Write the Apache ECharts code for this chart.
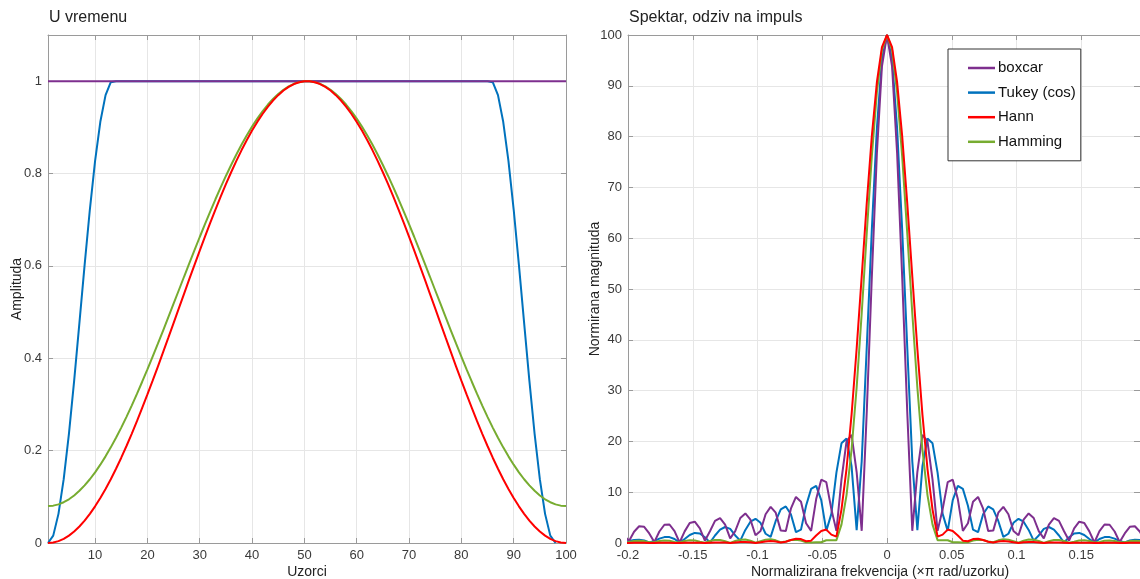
<!DOCTYPE html>
<html>
<head>
<meta charset="utf-8">
<script src="https://cdn.jsdelivr.net/npm/echarts@6.0.0/dist/echarts.min.js"></script>
<style>
  html, body { margin: 0; padding: 0; background: #ffffff; }
  #chart { width: 1140px; height: 579px; }
</style>
</head>
<body>
<div id="chart"></div>
<script>
// ---------- Data: time domain (window of 100 samples) ----------
const samples = [1,2,3,4,5,6,7,8,9,10,11,12,13,14,15,16,17,18,19,20,
  21,22,23,24,25,26,27,28,29,30,31,32,33,34,35,36,37,38,39,40,
  41,42,43,44,45,46,47,48,49,50,51,52,53,54,55,56,57,58,59,60,
  61,62,63,64,65,66,67,68,69,70,71,72,73,74,75,76,77,78,79,80,
  81,82,83,84,85,86,87,88,89,90,91,92,93,94,95,96,97,98,99,100];

const boxcarTime = [1,1,1,1,1,1,1,1,1,1,1,1,1,1,1,1,1,1,1,1,
  1,1,1,1,1,1,1,1,1,1,1,1,1,1,1,1,1,1,1,1,
  1,1,1,1,1,1,1,1,1,1,1,1,1,1,1,1,1,1,1,1,
  1,1,1,1,1,1,1,1,1,1,1,1,1,1,1,1,1,1,1,1,
  1,1,1,1,1,1,1,1,1,1,1,1,1,1,1,1,1,1,1,1];

const tukeyTime = [0,0.0160,0.0631,0.1381,0.2361,0.3515,0.4762,0.6024,0.7221,0.8276,0.9121,0.9698,0.9977,
  1,1,1,1,1,1,1,1,1,1,1,1,1,1,1,1,1,1,1,1,1,1,1,1,1,1,1,1,1,1,1,1,1,1,1,1,
  1,1,1,1,1,1,1,1,1,1,1,1,1,1,1,1,1,1,1,1,1,1,1,1,1,1,1,1,1,1,1,1,1,1,1,1,
  0.9977,0.9698,0.9121,0.8276,0.7221,0.6024,0.4762,0.3515,0.2361,0.1381,0.0631,0.0160,0];

const hannTime = [0,0.0010,0.0040,0.0090,0.0160,0.0250,0.0358,0.0485,0.0631,0.0794,
  0.0974,0.1170,0.1381,0.1607,0.1847,0.2100,0.2364,0.2639,0.2927,0.3216,
  0.3515,0.3821,0.4132,0.4446,0.4762,0.5079,0.5396,0.5712,0.6024,0.6332,
  0.6635,0.6932,0.7220,0.7500,0.7770,0.8028,0.8274,0.8508,0.8726,0.8930,
  0.9118,0.9290,0.9444,0.9581,0.9698,0.9797,0.9877,0.9938,0.9977,0.9997,
  0.9997,0.9977,0.9938,0.9877,0.9797,0.9698,0.9581,0.9444,0.9290,0.9118,
  0.8930,0.8726,0.8508,0.8274,0.8028,0.7770,0.7500,0.7220,0.6932,0.6635,
  0.6332,0.6024,0.5712,0.5396,0.5079,0.4762,0.4446,0.4132,0.3821,0.3515,
  0.3216,0.2927,0.2639,0.2364,0.2100,0.1847,0.1607,0.1381,0.1170,0.0974,
  0.0794,0.0631,0.0485,0.0358,0.0250,0.0160,0.0090,0.0040,0.0010,0];

const hammingTime = [0.0800,0.0809,0.0837,0.0883,0.0947,0.1030,0.1130,0.1247,0.1380,0.1530,
  0.1696,0.1876,0.2071,0.2279,0.2499,0.2732,0.2975,0.3228,0.3492,0.3758,
  0.4034,0.4315,0.4601,0.4890,0.5181,0.5473,0.5765,0.6055,0.6342,0.6626,
  0.6905,0.7177,0.7443,0.7700,0.7948,0.8186,0.8412,0.8627,0.8828,0.9016,
  0.9189,0.9347,0.9489,0.9614,0.9723,0.9814,0.9887,0.9943,0.9979,0.9998,
  0.9998,0.9979,0.9943,0.9887,0.9814,0.9723,0.9614,0.9489,0.9347,0.9189,
  0.9016,0.8828,0.8627,0.8412,0.8186,0.7948,0.7700,0.7443,0.7177,0.6905,
  0.6626,0.6342,0.6055,0.5765,0.5473,0.5181,0.4890,0.4601,0.4315,0.4034,
  0.3758,0.3492,0.3228,0.2975,0.2732,0.2499,0.2279,0.2071,0.1876,0.1696,
  0.1530,0.1380,0.1247,0.1130,0.1030,0.0947,0.0883,0.0837,0.0809,0.0800];

// ---------- Data: spectrum (one-sided, mirrored for negative frequencies) ----------
const freqPos = [0,0.00391,0.00781,0.01172,0.01563,0.01953,0.02344,0.02734,0.03125,0.03516,
  0.03906,0.04297,0.04688,0.05078,0.05469,0.05859,0.0625,0.06641,0.07031,0.07422,
  0.07813,0.08203,0.08594,0.08984,0.09375,0.09766,0.10156,0.10547,0.10938,0.11328,
  0.11719,0.12109,0.125,0.12891,0.13281,0.13672,0.14063,0.14453,0.14844,0.15234,
  0.15625,0.16016,0.16406,0.16797,0.17188,0.17578,0.17969,0.18359,0.1875,0.19141,
  0.19531,0.19922,0.20313];

const boxcarSpec = [100,93.84,76.72,52.35,25.85,2.40,13.97,21.29,19.99,12.49,
  2.39,6.67,11.99,12.46,8.64,2.38,3.90,8.11,9.06,6.76,
  2.37,2.44,5.97,7.11,5.67,2.36,1.53,4.59,5.82,4.92,
  2.34,0.90,3.62,4.90,4.36,2.31,0.45,2.90,4.20,3.94,
  2.29,0.10,2.34,3.64,3.59,2.26,0.18,1.88,3.18,3.29,
  2.22,0.40,1.50];

const tukeySpec = [100,95.22,81.64,61.66,38.58,16.10,2.54,15.05,20.57,19.62,
  13.85,5.73,2.38,8.43,11.25,10.66,7.34,2.63,2.14,5.66,
  7.20,6.61,4.34,1.21,1.82,3.97,4.77,4.19,2.57,0.47,
  1.48,2.77,3.15,2.63,1.48,0.09,1.12,1.86,1.99,1.57,
  0.79,0.07,0.78,1.16,1.16,0.86,0.38,0.11,0.48,0.64,
  0.59,0.40,0.15];

const hannSpec = [100,97.61,90.70,80.10,66.93,52.49,38.24,25.32,14.61,6.57,
  1.25,1.65,2.64,2.38,1.48,0.46,0.35,0.77,0.82,0.59,
  0.24,0.10,0.31,0.38,0.30,0.15,0.02,0.15,0.20,0.18,
  0.10,0.00,0.08,0.12,0.11,0.07,0.01,0.04,0.07,0.07,
  0.05,0.01,0.02,0.05,0.05,0.04,0.01,0.01,0.03,0.04,
  0.03,0.01,0.01];

const hammingSpec = [100,97.07,88.69,76.11,61.00,45.23,30.61,18.45,9.43,3.62,
  0.56,0.54,0.54,0.15,0.13,0.11,0.15,0.47,0.65,0.59,
  0.29,0.14,0.53,0.73,0.66,0.36,0.06,0.45,0.67,0.64,
  0.39,0.01,0.36,0.59,0.60,0.41,0.07,0.27,0.51,0.56,
  0.41,0.12,0.20,0.43,0.51,0.40,0.16,0.13,0.37,0.46,
  0.40,0.19,0.08];

// ---------- Tick values ----------
const sampleTicks = [10,20,30,40,50,60,70,80,90,100];
const ampTicks = [0,0.2,0.4,0.6,0.8,1];

const seriesNames = ['boxcar','Tukey (cos)','Hann','Hamming'];
const colors = {'boxcar':'#7E2F8E','Tukey (cos)':'#0072BD','Hann':'#FF0000','Hamming':'#77AC30'};

// ---------- Helpers ----------
function pairs(xs, ys) { return xs.map((x, i) => [x, ys[i]]); }
function twoSided(f, m) {
  const out = [];
  for (let i = f.length - 1; i >= 1; i--) out.push([-f[i], m[i]]);
  for (let i = 0; i < f.length; i++) out.push([f[i], m[i]]);
  return out;
}

const FONT = '"Liberation Sans", Arial, Helvetica, sans-serif';
const AXC = '#9a9a9a';
const LBL = '#3a3a3a';
const GRIDC = '#e6e6e6';

function mainAxis(extra) {
  return Object.assign({
    type: 'value',
    axisLine: { show: true, onZero: false, lineStyle: { color: AXC, width: 1 } },
    axisTick: { show: true, inside: true, length: 5, lineStyle: { color: AXC } },
    axisLabel: { color: LBL, fontSize: 13, fontFamily: FONT },
    splitLine: { show: true, lineStyle: { color: GRIDC, width: 1 } },
    nameTextStyle: { color: '#222', fontSize: 14, fontFamily: FONT },
    nameLocation: 'middle',
    nameMoveOverlap: false
  }, extra);
}
function boxAxis(extra) {
  return Object.assign({
    type: 'value',
    axisLine: { show: true, onZero: false, lineStyle: { color: AXC, width: 1 } },
    axisLabel: { show: false },
    splitLine: { show: false }
  }, extra);
}

const timeOrder = ['Tukey (cos)','boxcar','Hamming','Hann'];
const timeData = {'boxcar': boxcarTime, 'Tukey (cos)': tukeyTime, 'Hann': hannTime, 'Hamming': hammingTime};
const specData = {'boxcar': boxcarSpec, 'Tukey (cos)': tukeySpec, 'Hann': hannSpec, 'Hamming': hammingSpec};

const series = [];
timeOrder.forEach(n => {
  series.push({
    name: n, type: 'line', xAxisIndex: 0, yAxisIndex: 0,
    data: pairs(samples, timeData[n]), showSymbol: false, symbol: 'none',
    lineStyle: { color: colors[n], width: 2 }, itemStyle: { color: colors[n] },
    clip: true, animation: false
  });
});
timeOrder.forEach(n => {
  series.push({
    name: n, type: 'line', xAxisIndex: 2, yAxisIndex: 2,
    data: twoSided(freqPos, specData[n]), showSymbol: false, symbol: 'none',
    lineStyle: { color: colors[n], width: 2 }, itemStyle: { color: colors[n] },
    clip: true, animation: false
  });
});

const chart = echarts.init(document.getElementById('chart'), null, { renderer: 'canvas' });
chart.setOption({
  animation: false,
  backgroundColor: '#ffffff',
  textStyle: { fontFamily: FONT },
  title: [
    { text: 'U vremenu', left: 49, top: 10, padding: 0,
      textStyle: { fontSize: 16, fontWeight: 'normal', color: '#222', fontFamily: FONT } },
    { text: 'Spektar, odziv na impuls', left: 629, top: 10, padding: 0,
      textStyle: { fontSize: 16, fontWeight: 'normal', color: '#222', fontFamily: FONT } }
  ],
  legend: {
    data: seriesNames,
    orient: 'vertical',
    left: 948, top: 49,
    padding: [10, 5, 10, 20],
    itemGap: 6.6,
    itemWidth: 27, itemHeight: 2.5,
    icon: 'rect',
    borderColor: '#333', borderWidth: 1, backgroundColor: '#ffffff',
    textStyle: { fontSize: 15, color: '#111', fontFamily: FONT, lineHeight: 18, padding: [0,0,0,-2] }
  },
  grid: [
    { left: 48, right: 574, top: 35, bottom: 36, containLabel: false, outerBoundsMode: 'none' },
    { left: 628, right: -6, top: 35, bottom: 36, containLabel: false, outerBoundsMode: 'none' }
  ],
  xAxis: [
    mainAxis({ gridIndex: 0, position: 'bottom', min: 1, max: 100,
      name: 'Uzorci', nameGap: 22,
      axisTick: { show: true, inside: true, length: 5, lineStyle: { color: AXC }, customValues: sampleTicks },
      axisLabel: { color: LBL, fontSize: 13, fontFamily: FONT, margin: 6, customValues: sampleTicks } }),
    boxAxis({ gridIndex: 0, position: 'top', min: 1, max: 100,
      axisTick: { show: true, inside: true, length: 5, lineStyle: { color: AXC }, customValues: sampleTicks } }),
    mainAxis({ gridIndex: 1, position: 'bottom', min: -0.2, max: 0.2, interval: 0.05,
      name: 'Normalizirana frekvencija (\u00d7\u03c0 rad/uzorku)', nameGap: 22,
      nameTextStyle: { color: '#222', fontSize: 14, fontFamily: FONT, padding: [0, 14, 0, 0] },
      axisLabel: { color: LBL, fontSize: 13, fontFamily: FONT, margin: 6, showMaxLabel: false } }),
    boxAxis({ gridIndex: 1, position: 'top', min: -0.2, max: 0.2, interval: 0.05,
      axisTick: { show: true, inside: true, length: 5, lineStyle: { color: AXC } } })
  ],
  yAxis: [
    mainAxis({ gridIndex: 0, position: 'left', min: 0, max: 1.1,
      name: 'Amplituda', nameGap: 24, nameRotate: 90,
      axisTick: { show: true, inside: true, length: 5, lineStyle: { color: AXC }, customValues: ampTicks },
      axisLabel: { color: LBL, fontSize: 13, fontFamily: FONT, margin: 6, customValues: ampTicks } }),
    boxAxis({ gridIndex: 0, position: 'right', min: 0, max: 1.1,
      axisTick: { show: true, inside: true, length: 5, lineStyle: { color: AXC }, customValues: ampTicks } }),
    mainAxis({ gridIndex: 1, position: 'left', min: 0, max: 100, interval: 10,
      name: 'Normirana magnituda', nameGap: 26, nameRotate: 90,
      axisLabel: { color: LBL, fontSize: 13, fontFamily: FONT, margin: 6 } }),
    boxAxis({ gridIndex: 1, position: 'right', min: 0, max: 100, interval: 10,
      axisTick: { show: true, inside: true, length: 12, lineStyle: { color: AXC } } })
  ],
  series: series
});
</script>
</body>
</html>
